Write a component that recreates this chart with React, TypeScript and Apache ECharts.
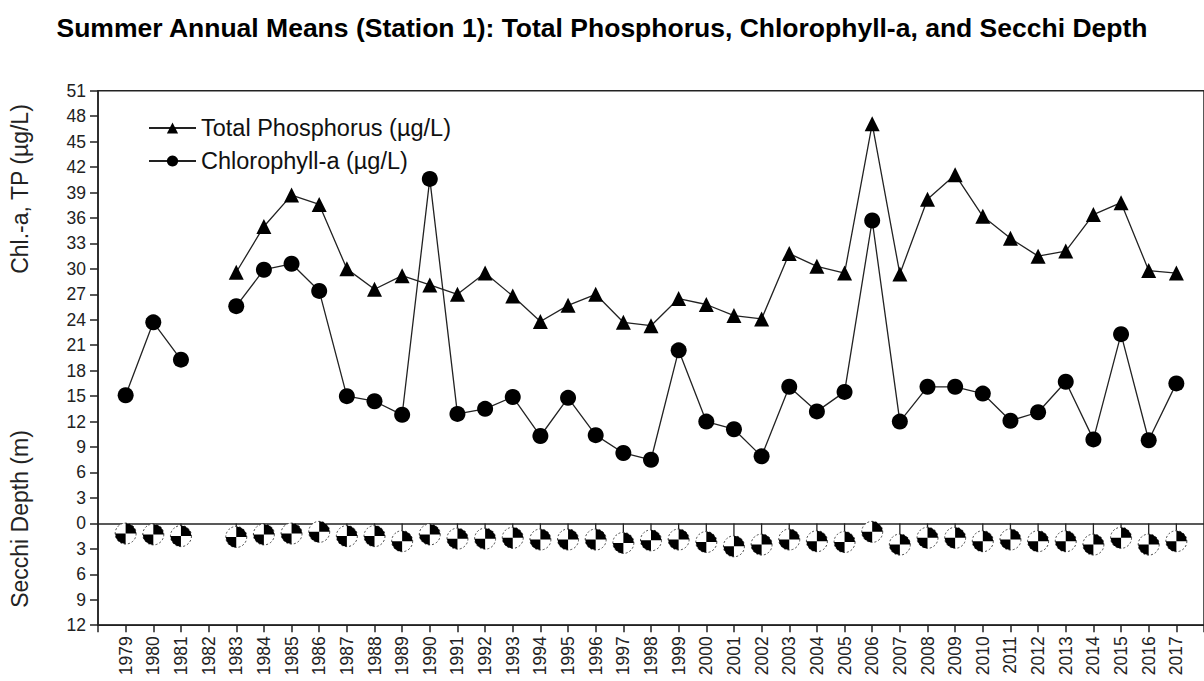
import React, { useEffect, useRef } from "react";
import * as echarts from "echarts";

const years = [1979,1980,1981,1982,1983,1984,1985,1986,1987,1988,1989,1990,1991,1992,1993,1994,1995,1996,1997,1998,1999,2000,2001,2002,2003,2004,2005,2006,2007,2008,2009,2010,2011,2012,2013,2014,2015,2016,2017];
const totalPhosphorus = [null,null,null,null,29.6,35.0,38.7,37.6,30.0,27.6,29.2,28.1,27.0,29.5,26.8,23.8,25.7,27.0,23.7,23.3,26.5,25.8,24.5,24.1,31.8,30.3,29.5,47.1,29.4,38.2,41.1,36.2,33.6,31.5,32.1,36.4,37.8,29.8,29.5];
const chlorophyllA = [15.1,23.7,19.3,null,25.6,29.9,30.6,27.4,15.0,14.4,12.8,40.6,12.9,13.5,14.9,10.3,14.8,10.4,8.3,7.5,20.4,12.0,11.1,7.9,16.1,13.2,15.5,35.7,12.0,16.1,16.1,15.3,12.1,13.1,16.7,9.9,22.3,9.8,16.5];
const secchiDepth = [1.2,1.3,1.5,null,1.6,1.3,1.2,1.0,1.5,1.5,2.1,1.3,1.8,1.8,1.7,1.9,1.9,1.9,2.3,2.0,1.9,2.2,2.7,2.5,1.9,2.1,2.2,1.0,2.5,1.7,1.7,2.1,1.9,2.1,2.1,2.5,1.7,2.5,2.1];

const FONT = "'Liberation Sans', Arial, sans-serif";

export default function App() {
  const ref = useRef<HTMLDivElement>(null);
  useEffect(() => {
    document.body.style.margin = "0";
    const chart = echarts.init(ref.current!, null, { renderer: "svg" });
    const tpData = years.map((y, i) => [y, totalPhosphorus[i]]);
    const chlData = years.map((y, i) => [y, chlorophyllA[i]]);
    const secData = years
      .map((y, i) => (secchiDepth[i] == null ? null : [y, -(secchiDepth[i] as number)]))
      .filter((d) => d !== null);
    chart.setOption({
      animation: false,
      backgroundColor: "#fff",
      title: {
        text: "Summer Annual Means (Station 1): Total Phosphorus, Chlorophyll-a, and Secchi Depth",
        left: "center",
        top: 9,
        textStyle: { fontFamily: FONT, fontWeight: "bold", fontSize: 26.5, color: "#000" },
      },
      grid: {
        left: 98,
        top: 90.7,
        height: 534.5,
        width: 1110,
        show: true,
        borderColor: "#222",
        borderWidth: 1.5,
        backgroundColor: "transparent",
      },
      legend: {
        orient: "vertical",
        left: 143,
        top: 111,
        itemWidth: 47,
        itemHeight: 14,
        itemGap: 9,
        data: ["Total Phosphorus (µg/L)", "Chlorophyll-a (µg/L)"],
        textStyle: { fontFamily: FONT, fontSize: 23.5, color: "#111" },
      },
      xAxis: {
        type: "value",
        min: 1978,
        max: 2018,
        interval: 1,
        axisLine: { onZero: false, lineStyle: { color: "#222", width: 1.5 } },
        axisTick: { show: true, length: 7, lineStyle: { color: "#222", width: 1.5 } },
        splitLine: { show: false },
        axisLabel: {
          rotate: 90,
          margin: 11,
          fontFamily: FONT,
          fontSize: 17.5,
          color: "#222",
          formatter: (v: number) => (v === 1978 || v === 2018 ? "" : String(v)),
        },
      },
      yAxis: {
        type: "value",
        min: -12,
        max: 51,
        interval: 3,
        axisLine: { show: true, onZero: false, lineStyle: { color: "#222", width: 1.5 } },
        axisTick: { show: true, length: 8, lineStyle: { color: "#222", width: 1.5 } },
        splitLine: { show: false },
        axisLabel: {
          margin: 12,
          fontFamily: FONT,
          fontSize: 17.5,
          color: "#222",
          formatter: (v: number) => String(Math.abs(v)),
        },
      },
      graphic: [
        {
          type: "text",
          x: 20,
          y: 189,
          rotation: Math.PI / 2,
          style: { text: "Chl.-a, TP (µg/L)", fontFamily: FONT, fontSize: 23, fill: "#222", textAlign: "center", textVerticalAlign: "middle" },
        },
        {
          type: "text",
          x: 20,
          y: 519,
          rotation: Math.PI / 2,
          style: { text: "Secchi Depth (m)", fontFamily: FONT, fontSize: 23, fill: "#222", textAlign: "center", textVerticalAlign: "middle" },
        },
      ],
      series: [
        {
          name: "Total Phosphorus (µg/L)",
          type: "line",
          data: tpData,
          symbol: "triangle",
          symbolSize: 15,
          itemStyle: { color: "#000" },
          lineStyle: { color: "#222", width: 1.3 },
          z: 3,
        },
        {
          name: "Chlorophyll-a (µg/L)",
          type: "line",
          data: chlData,
          symbol: "circle",
          symbolSize: 16,
          itemStyle: { color: "#000" },
          lineStyle: { color: "#222", width: 1.3 },
          z: 3,
          markLine: {
            silent: true,
            symbol: ["none", "none"],
            label: { show: false },
            lineStyle: { color: "#222", width: 1.5, type: "solid" },
            data: [{ yAxis: 0 }],
          },
        },
        {
          name: "Secchi Depth (m)",
          type: "custom",
          z: 6,
          data: secData,
          renderItem: (params: any, api: any) => {
            const p = api.coord([api.value(0), api.value(1)]);
            const z0 = api.coord([api.value(0), 0]);
            const r = 10.5;
            const children: any[] = [];
            if (p[1] - r > z0[1]) {
              children.push({
                type: "line",
                shape: { x1: p[0], y1: z0[1], x2: p[0], y2: p[1] - r },
                style: { stroke: "#222", lineWidth: 1.3 },
              });
            }
            children.push({
              type: "circle",
              shape: { cx: p[0], cy: p[1], r },
              style: { fill: "#fff", stroke: "#444", lineWidth: 1, lineDash: [2, 2] },
            });
            children.push({
              type: "sector",
              shape: { cx: p[0], cy: p[1], r0: 0, r, startAngle: -Math.PI / 2, endAngle: 0, clockwise: true },
              style: { fill: "#000" },
            });
            children.push({
              type: "sector",
              shape: { cx: p[0], cy: p[1], r0: 0, r, startAngle: Math.PI / 2, endAngle: Math.PI, clockwise: true },
              style: { fill: "#000" },
            });
            return { type: "group", children };
          },
        },
      ],
    });
    return () => chart.dispose();
  }, []);
  return <div ref={ref} style={{ width: 1204, height: 681 }} />;
}
